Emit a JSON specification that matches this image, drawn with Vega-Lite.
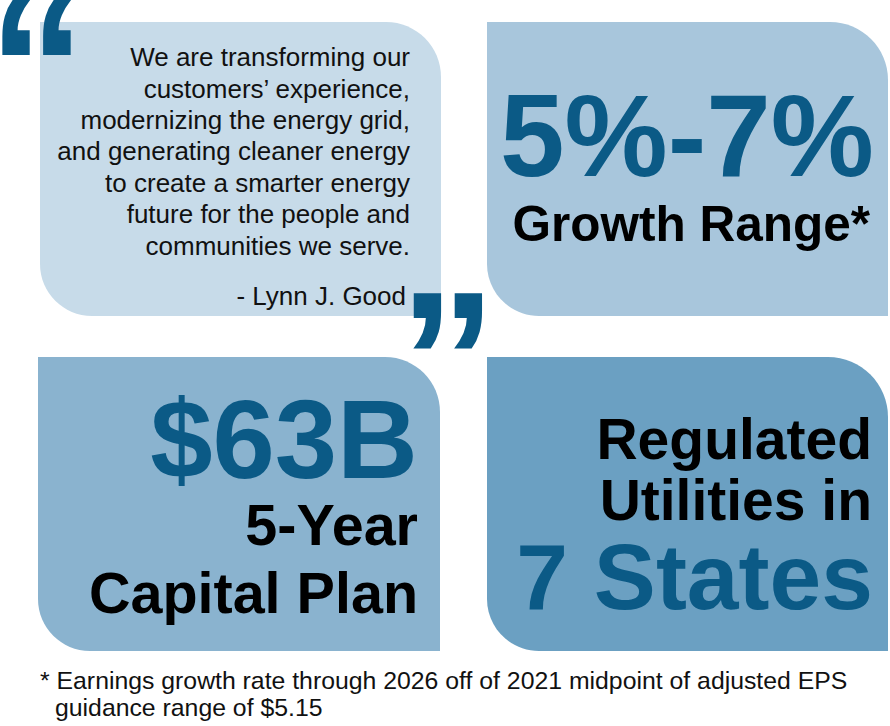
{
  "$schema": "https://vega.github.io/schema/vega-lite/v6.json",
  "width": 890,
  "height": 726,
  "autosize": "none",
  "padding": 0,
  "background": "white",
  "config": {"view": {"stroke": null}, "axis": {"disable": true}},
  "datasets": {
    "panels": [
      {"panel": "quote", "x0": 40, "x1": 441, "y0": 22, "y1": 316},
      {"panel": "growth", "x0": 487, "x1": 888, "y0": 22, "y1": 316},
      {"panel": "capital", "x0": 38, "x1": 440, "y0": 357, "y1": 651},
      {"panel": "states", "x0": 487, "x1": 888, "y0": 357, "y1": 651}
    ],
    "quote": [
      {"t": "We are transforming our", "x": 410, "y": 66},
      {"t": "customers’ experience,", "x": 410, "y": 97.5},
      {"t": "modernizing the energy grid,", "x": 410, "y": 129},
      {"t": "and generating cleaner energy", "x": 410, "y": 160},
      {"t": "to create a smarter energy", "x": 410, "y": 192},
      {"t": "future for the people and", "x": 410, "y": 223},
      {"t": "communities we serve.", "x": 410, "y": 255},
      {"t": "- Lynn J. Good", "x": 406, "y": 305}
    ],
    "marks": [
      {"t": "“", "x": -12, "y": 134},
      {"t": "”", "x": 399, "y": 427}
    ],
    "bigGrowth": [{"t": "5%-7%", "x": 874, "y": 176}],
    "bigCapital": [{"t": "$63B", "x": 418, "y": 478}],
    "bigStates": [{"t": "7 States", "x": 873, "y": 609}],
    "growthLabel": [{"t": "Growth Range*", "x": 870, "y": 241}],
    "capitalLabel": [
      {"t": "5-Year", "x": 418, "y": 545},
      {"t": "Capital Plan", "x": 418, "y": 613}
    ],
    "statesLabel": [
      {"t": "Regulated", "x": 872, "y": 459},
      {"t": "Utilities in", "x": 872, "y": 520}
    ],
    "footnote": [
      {"t": "* Earnings growth rate through 2026 off of 2021 midpoint of adjusted EPS", "x": 40, "y": 689},
      {"t": "guidance range of $5.15", "x": 55, "y": 716}
    ]
  },
  "encoding": {
    "x": {"field": "x", "type": "quantitative", "scale": {"domain": [0, 890], "nice": false, "zero": false}, "axis": null},
    "y": {"field": "y", "type": "quantitative", "scale": {"domain": [726, 0], "nice": false, "zero": false}, "axis": null}
  },
  "layer": [
    {
      "data": {"name": "panels"},
      "transform": [{"filter": "datum.panel === 'quote'"}],
      "mark": {"type": "rect", "fill": "#c7dbe9", "cornerRadiusTopRight": 55, "cornerRadiusBottomLeft": 52},
      "encoding": {
        "x": {"field": "x0", "type": "quantitative"}, "x2": {"field": "x1"},
        "y": {"field": "y0", "type": "quantitative"}, "y2": {"field": "y1"}
      }
    },
    {
      "data": {"name": "panels"},
      "transform": [{"filter": "datum.panel === 'growth'"}],
      "mark": {"type": "rect", "fill": "#a8c6dc", "cornerRadiusTopRight": 58, "cornerRadiusBottomLeft": 52},
      "encoding": {
        "x": {"field": "x0", "type": "quantitative"}, "x2": {"field": "x1"},
        "y": {"field": "y0", "type": "quantitative"}, "y2": {"field": "y1"}
      }
    },
    {
      "data": {"name": "panels"},
      "transform": [{"filter": "datum.panel === 'capital'"}],
      "mark": {"type": "rect", "fill": "#8ab3cf", "cornerRadiusTopRight": 55, "cornerRadiusBottomLeft": 52},
      "encoding": {
        "x": {"field": "x0", "type": "quantitative"}, "x2": {"field": "x1"},
        "y": {"field": "y0", "type": "quantitative"}, "y2": {"field": "y1"}
      }
    },
    {
      "data": {"name": "panels"},
      "transform": [{"filter": "datum.panel === 'states'"}],
      "mark": {"type": "rect", "fill": "#6ba0c2", "cornerRadiusTopRight": 60, "cornerRadiusBottomLeft": 52},
      "encoding": {
        "x": {"field": "x0", "type": "quantitative"}, "x2": {"field": "x1"},
        "y": {"field": "y0", "type": "quantitative"}, "y2": {"field": "y1"}
      }
    },
    {
      "data": {"name": "quote"},
      "mark": {"type": "text", "font": "Liberation Sans", "fontSize": 26, "align": "right", "baseline": "alphabetic", "color": "#111111"},
      "encoding": {"text": {"field": "t"}}
    },
    {
      "data": {"name": "marks"},
      "mark": {"type": "text", "font": "Liberation Sans", "fontWeight": "bold", "fontSize": 195, "align": "left", "baseline": "alphabetic", "color": "#0b5a86"},
      "encoding": {"text": {"field": "t"}}
    },
    {
      "data": {"name": "bigGrowth"},
      "mark": {"type": "text", "font": "Liberation Sans", "fontWeight": "bold", "fontSize": 116, "align": "right", "baseline": "alphabetic", "color": "#0b5a86"},
      "encoding": {"text": {"field": "t"}}
    },
    {
      "data": {"name": "bigCapital"},
      "mark": {"type": "text", "font": "Liberation Sans", "fontWeight": "bold", "fontSize": 112, "align": "right", "baseline": "alphabetic", "color": "#0b5a86"},
      "encoding": {"text": {"field": "t"}}
    },
    {
      "data": {"name": "bigStates"},
      "mark": {"type": "text", "font": "Liberation Sans", "fontWeight": "bold", "fontSize": 93, "align": "right", "baseline": "alphabetic", "color": "#0b5a86"},
      "encoding": {"text": {"field": "t"}}
    },
    {
      "data": {"name": "growthLabel"},
      "mark": {"type": "text", "font": "Liberation Sans", "fontWeight": "bold", "fontSize": 49.5, "align": "right", "baseline": "alphabetic", "color": "#000000"},
      "encoding": {"text": {"field": "t"}}
    },
    {
      "data": {"name": "capitalLabel"},
      "mark": {"type": "text", "font": "Liberation Sans", "fontWeight": "bold", "fontSize": 57.5, "align": "right", "baseline": "alphabetic", "color": "#000000"},
      "encoding": {"text": {"field": "t"}}
    },
    {
      "data": {"name": "statesLabel"},
      "mark": {"type": "text", "font": "Liberation Sans", "fontWeight": "bold", "fontSize": 57, "align": "right", "baseline": "alphabetic", "color": "#000000"},
      "encoding": {"text": {"field": "t"}}
    },
    {
      "data": {"name": "footnote"},
      "mark": {"type": "text", "font": "Liberation Sans", "fontSize": 24.8, "align": "left", "baseline": "alphabetic", "color": "#111111"},
      "encoding": {"text": {"field": "t"}}
    }
  ]
}
